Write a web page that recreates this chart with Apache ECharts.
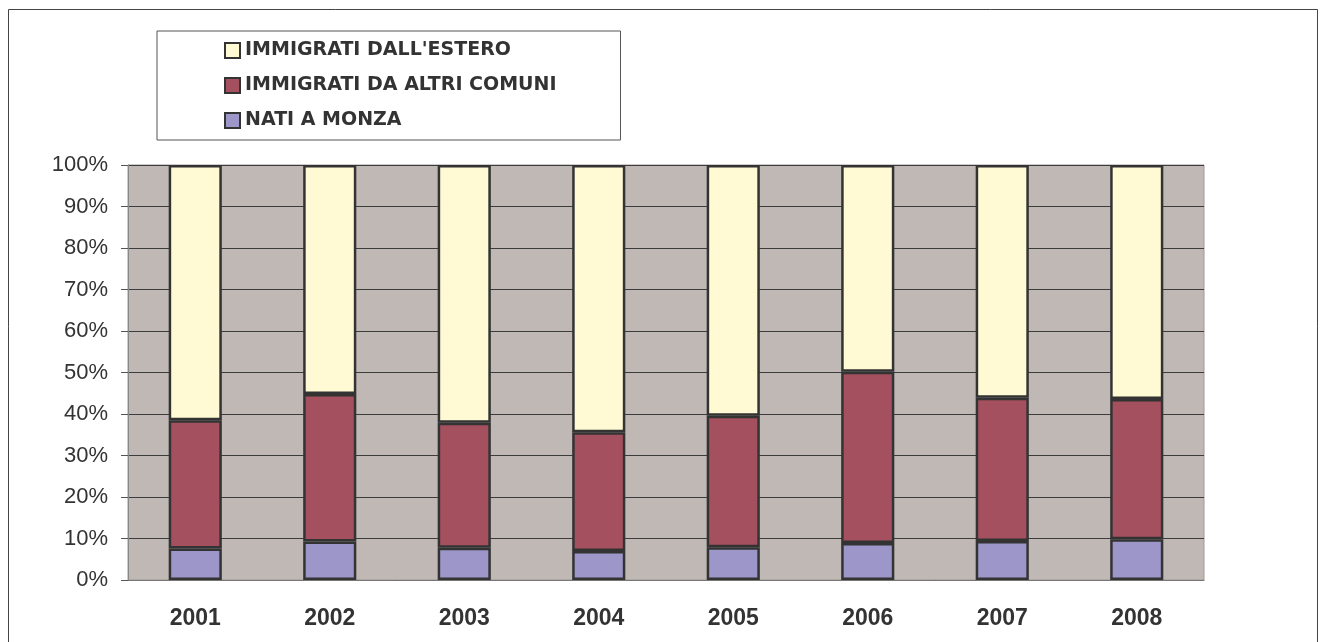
<!DOCTYPE html>
<html>
<head>
<meta charset="utf-8">
<script src="https://cdn.jsdelivr.net/npm/echarts@6/dist/echarts.min.js"></script>
<style>
  html, body { margin: 0; padding: 0; background: #fff; }
  #chart { width: 1327px; height: 642px; }
</style>
</head>
<body>
<div id="chart"></div>
<script>
// anni
var years = ['2001', '2002', '2003', '2004', '2005', '2006', '2007', '2008'];
// percentuali
var natiMonza = [7.6, 9.3, 7.8, 7.0, 7.9, 8.9, 9.4, 9.8];
var altriComuni = [30.9, 35.5, 30.1, 28.6, 31.7, 41.3, 34.5, 33.8];
var estero = [61.5, 55.2, 62.1, 64.4, 60.4, 49.8, 56.1, 56.4];

var chart = echarts.init(document.getElementById('chart'));

var font = 'Liberation Sans, Arial, sans-serif';
var barBorder = { borderColor: '#333333', borderWidth: 2.5 };

var option = {
  animation: false,
  graphic: [
    {
      type: 'rect',
      shape: { x: 8.5, y: 9.5, width: 1309, height: 645 },
      style: { fill: 'none', stroke: '#444', lineWidth: 1 }
    }
  ],
  legend: {
    orient: 'vertical',
    left: 157,
    top: 31,
    padding: [10, 64, 10, 67],
    itemGap: 16,
    itemWidth: 15,
    itemHeight: 15,
    borderColor: '#555',
    borderWidth: 1,
    backgroundColor: '#fff',
    icon: 'rect',
    data: ["IMMIGRATI DALL'ESTERO", 'IMMIGRATI DA ALTRI COMUNI', 'NATI A MONZA'],
    textStyle: {
      fontFamily: 'DejaVu Sans',
      fontSize: 19,
      fontWeight: 'bold',
      color: '#333',
      lineHeight: 19
    }
  },
  grid: {
    left: 128,
    right: 123,
    top: 165,
    bottom: 62,
    show: true,
    backgroundColor: '#c0b8b5',
    borderColor: '#a09896',
    borderWidth: 1
  },
  xAxis: {
    type: 'category',
    data: years,
    axisLine: { lineStyle: { color: '#777', width: 1 } },
    axisTick: { length: 8, lineStyle: { color: '#555' } },
    axisLabel: {
      margin: 27,
      fontFamily: font,
      fontSize: 23,
      fontWeight: 'bold',
      color: '#333'
    }
  },
  yAxis: {
    type: 'value',
    min: 0,
    max: 100,
    interval: 10,
    axisLine: { show: true, lineStyle: { color: '#888', width: 1 } },
    axisTick: { show: true, length: 7, lineStyle: { color: '#555' } },
    axisLabel: {
      formatter: '{value}%',
      margin: 20,
      fontFamily: font,
      fontSize: 22,
      color: '#333'
    },
    splitLine: { lineStyle: { color: '#3c3c3c', width: 1 } }
  },
  series: [
    {
      name: 'NATI A MONZA',
      type: 'bar',
      stack: 'tot',
      barWidth: '39.5%',
      data: natiMonza,
      itemStyle: Object.assign({ color: '#9d96c8' }, barBorder)
    },
    {
      name: 'IMMIGRATI DA ALTRI COMUNI',
      type: 'bar',
      stack: 'tot',
      data: altriComuni,
      itemStyle: Object.assign({ color: '#a5505f' }, barBorder)
    },
    {
      name: "IMMIGRATI DALL'ESTERO",
      type: 'bar',
      stack: 'tot',
      data: estero,
      itemStyle: Object.assign({ color: '#fffad4' }, barBorder)
    }
  ]
};

chart.setOption(option);
</script>
</body>
</html>
